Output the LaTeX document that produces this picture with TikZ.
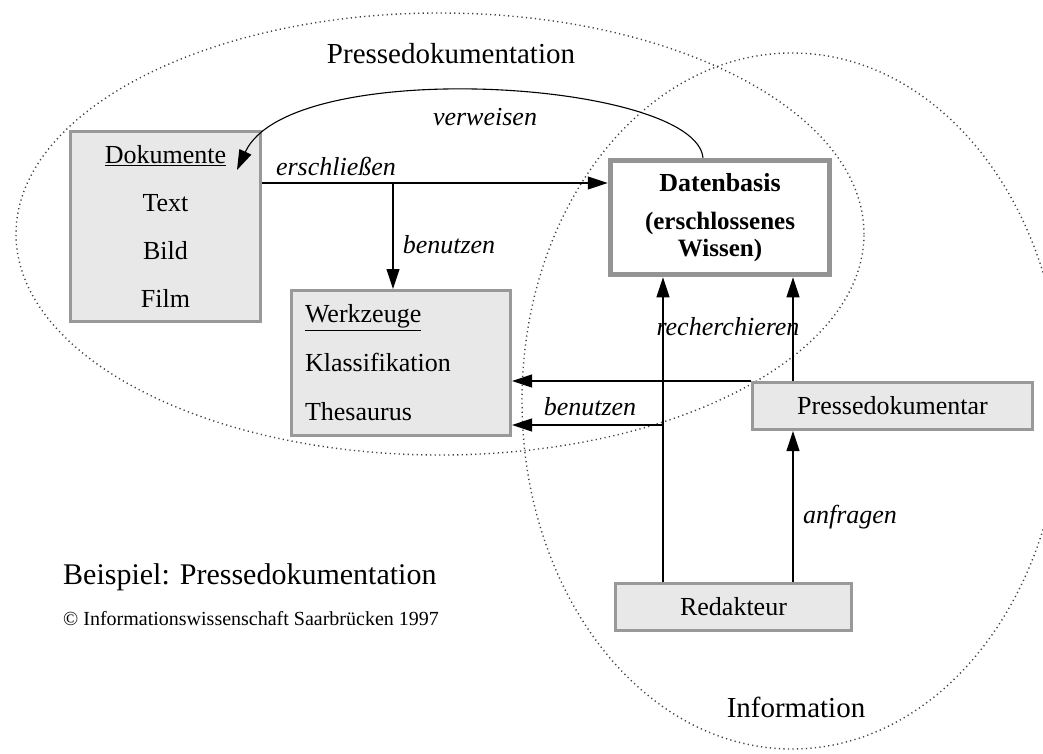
\documentclass[tikz,border=0pt]{standalone}
\usepackage{fontspec}
\setmainfont{Liberation Serif}
\usetikzlibrary{arrows.meta, calc}

\begin{document}
\begin{tikzpicture}[
    x=1pt, y=-1pt,
    gbox/.style={rectangle, draw=black!40, fill=black!9, line width=3pt, inner sep=0pt, align=center, font=\fontsize{26}{31}\selectfont},
    dbox/.style={rectangle, draw=black!42, fill=white, line width=5.5pt, inner sep=0pt, align=center, font=\fontsize{25}{27}\selectfont\bfseries},
    lbl/.style={inner sep=0pt, font=\fontsize{26}{31}\selectfont\itshape},
    ttl/.style={inner sep=0pt, font=\fontsize{29}{34}\selectfont},
    area/.style={draw=black!75, line width=1.4pt, dash pattern=on 1.2pt off 3.3pt},
    arr/.style={-{Triangle[length=20pt,width=13pt]}, line width=1.1pt}
]
\useasboundingbox (0,0) rectangle (1043,753);

\draw[area] (440,234) ellipse [x radius=424pt, y radius=221pt];
\draw[area] (792,401) ellipse [x radius=270pt, y radius=348pt];
\node[ttl] (t_presse) at (451,54) {Pressedokumentation};
\node[ttl] (t_info) at (796,707) {Information};

\node[gbox, minimum width=190pt, minimum height=190pt, font=\fontsize{26}{48}\selectfont] (dokumente) at (165.5,226.5) {\underline{Dokumente}\\Text\\Bild\\Film};
\node[gbox, text width=192pt, inner xsep=13.5pt, minimum height=145pt, align=left, font=\fontsize{26}{49}\selectfont] (werkzeuge) at (401,363) {\underline{Werkzeuge}\\Klassifikation\\Thesaurus};
\node[dbox, minimum width=219pt, minimum height=114pt] (datenbasis) at (720,217.5) {\fontsize{26}{27}\selectfont Datenbasis\\[11pt](erschlossenes\\Wissen)};
\node[gbox, minimum width=280pt, minimum height=47pt] (pressedok) at (892.5,406) {Pressedokumentar};
\node[gbox, minimum width=236pt, minimum height=47pt] (redakteur) at (733.5,607) {Redakteur};

\coordinate (wtop) at ([xshift=-8pt]werkzeuge.north);
\coordinate (wlow) at ([yshift=-62pt]werkzeuge.east);
\coordinate (rleft) at ([xshift=-70.5pt]redakteur.north);
\coordinate (rright) at ([xshift=59.5pt]redakteur.north);

\draw[arr] ([yshift=43.5pt]dokumente.east) coordinate (ersch) -- (ersch -| datenbasis.west);
\draw[arr] (ersch -| wtop) -- (wtop);
\draw[arr] ([xshift=-17pt]datenbasis.north) .. controls (695,80) and (290,55) .. ([xshift=-25pt,yshift=-40pt]dokumente.north east);
\draw[arr] (rleft) -- (rleft |- datenbasis.south);
\draw[arr] (rright) -- (rright |- pressedok.south);
\draw[arr] (rright |- pressedok.north) -- (rright |- datenbasis.south);
\draw[arr] (pressedok.north west) -- (pressedok.north west -| werkzeuge.east);
\draw[arr] (rleft |- wlow) -- (wlow);

\node[lbl] (l_verweisen) at (485,117) {verweisen};
\node[lbl] (l_erschliessen) at (336,166) {erschließen};
\node[lbl] (l_benutzen) at (449,245) {benutzen};
\node[lbl] (l_recherchieren) at (728,327) {recherchieren};
\node[lbl] (l_benutzen2) at (590,407) {benutzen};
\node[lbl] (l_anfragen) at (850,517) {anfragen};

\node[ttl, anchor=west, font=\fontsize{30}{34}\selectfont] (beispiel) at (63,577) {Beispiel: Pressedokumentation};
\node[anchor=west, inner sep=0pt, font=\fontsize{20}{22}\selectfont] (copyright) at (63,619) {© Informationswissenschaft Saarbrücken 1997};
\end{tikzpicture}
\end{document}
